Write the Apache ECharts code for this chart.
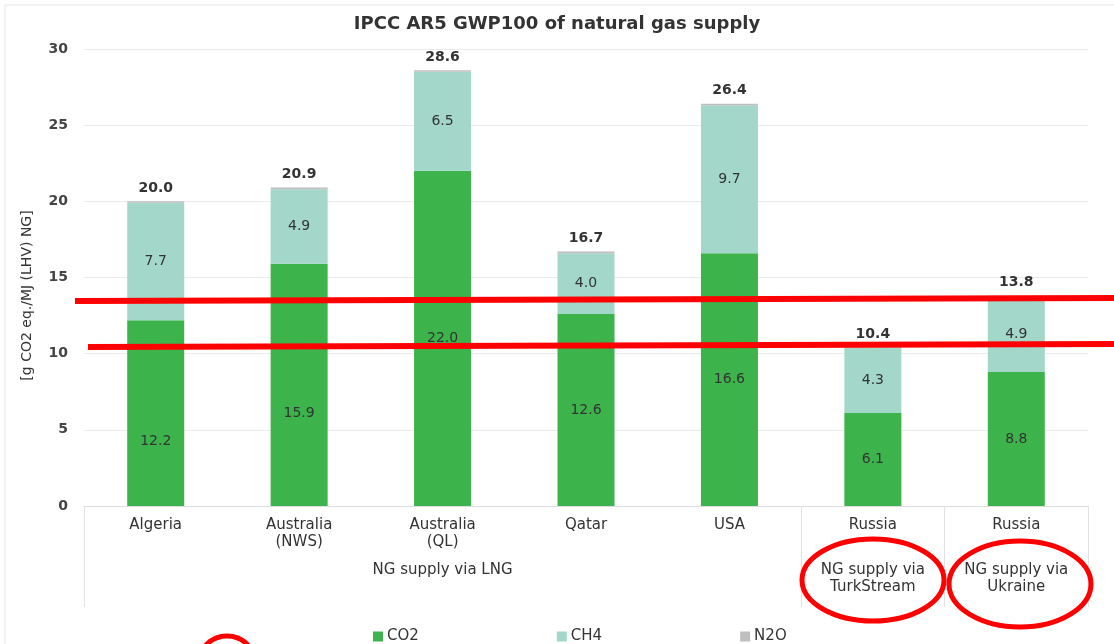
<!DOCTYPE html>
<html>
<head>
<meta charset="utf-8">
<title>IPCC AR5 GWP100 of natural gas supply</title>
<script src="https://cdn.jsdelivr.net/npm/echarts@6/dist/echarts.min.js"></script>
<style>
    html, body { margin: 0; padding: 0; background: #fff; }
    #chart { width: 1114px; height: 644px; }
</style>
</head>
<body>
<div id="chart"></div>
<script>
// data
let categories = ['Algeria', 'Australia\n(NWS)', 'Australia\n(QL)', 'Qatar', 'USA', 'Russia', 'Russia'];
let groupLabels = ['', '', 'NG supply via LNG', '', '', 'NG supply via\nTurkStream', 'NG supply via\nUkraine'];
let co2 = [12.2, 15.9, 22.0, 12.6, 16.6, 6.1, 8.8];
let ch4 = [7.7, 4.9, 6.5, 4.0, 9.7, 4.3, 4.9];
let n2o = [0.1, 0.1, 0.1, 0.1, 0.1, 0.04, 0.1];
let totals = ['20.0', '20.9', '28.6', '16.7', '26.4', '10.4', '13.8'];
let yTicks = [0, 5, 10, 15, 20, 25, 30];

let FONT = "'DejaVu Sans', 'Liberation Sans', Arial, sans-serif";

let myChart = echarts.init(document.getElementById('chart'));

let option = {
    animation: false,
    textStyle: {fontFamily: FONT},
    title: {
        text: 'IPCC AR5 GWP100 of natural gas supply',
        left: 'center',
        top: 10,
        textStyle: {fontSize: 18, fontWeight: 'bold', color: '#333', fontFamily: FONT}
    },
    legend: {
        data: ['CO2', 'CH4', 'N2O'],
        left: 368,
        top: 624,
        itemWidth: 10,
        itemHeight: 10,
        itemGap: 138,
        icon: 'rect',
        textStyle: {fontSize: 15, color: '#333', fontFamily: FONT, padding: [0, 0, 0, -1]}
    },
    grid: {left: 84, right: 26, top: 49, bottom: 138},
    xAxis: [{
        type: 'category',
        data: categories,
        axisLine: {lineStyle: {color: '#dcdcdc'}},
        axisTick: {
            show: true,
            length: 101,
            interval: function (idx) {
                return idx === 0 || idx === 5 || idx === 6;
            },
            lineStyle: {color: '#e2e2e2'}
        },
        axisLabel: {
            interval: 0,
            margin: 11,
            fontSize: 15,
            lineHeight: 17,
            color: '#333',
            fontFamily: FONT
        }
    }, {
        type: 'category',
        position: 'bottom',
        data: groupLabels,
        axisLine: {show: false},
        axisTick: {show: false},
        axisLabel: {
            interval: 0,
            margin: 56,
            fontSize: 15,
            lineHeight: 17,
            color: '#333',
            fontFamily: FONT
        }
    }],
    yAxis: {
        type: 'value',
        min: 0,
        max: 30,
        interval: 5,
        name: '[g CO2 eq./MJ (LHV) NG]',
        nameLocation: 'middle',
        nameGap: 50,
        nameTextStyle: {fontSize: 14, color: '#333', fontFamily: FONT, padding: [0, 36, 0, 0]},
        axisLine: {show: false},
        axisTick: {show: false},
        axisLabel: {
            margin: 16,
            fontSize: 14,
            fontWeight: 'bold',
            color: '#444',
            fontFamily: FONT,
            formatter: function (v) {
                return yTicks.indexOf(v) >= 0 ? String(v) : '';
            }
        },
        splitLine: {lineStyle: {color: '#ebebeb'}}
    },
    series: [{
        name: 'CO2',
        type: 'bar',
        stack: 'ghg',
        barWidth: 57,
        itemStyle: {color: '#3cb44b'},
        label: {
            show: true,
            position: 'inside',
            fontSize: 14,
            color: '#333',
            fontFamily: FONT,
            formatter: function (p) {
                return p.value.toFixed(1);
            }
        },
        // the two left labels sit lower in the original
        data: co2.map(function (v, i) {
            return i < 2 ? {value: v, label: {offset: [0, 28]}} : v;
        })
    }, {
        name: 'CH4',
        type: 'bar',
        stack: 'ghg',
        itemStyle: {color: '#a3d7c9'},
        label: {
            show: true,
            position: 'inside',
            fontSize: 14,
            color: '#333',
            fontFamily: FONT,
            formatter: function (p) {
                return p.value.toFixed(1);
            }
        },
        data: ch4
    }, {
        name: 'N2O',
        type: 'bar',
        stack: 'ghg',
        itemStyle: {color: '#bfbfbf'},
        label: {
            show: true,
            position: 'top',
            distance: 6,
            fontSize: 14,
            fontWeight: 'bold',
            color: '#333',
            fontFamily: FONT,
            formatter: function (p) {
                return totals[p.dataIndex];
            }
        },
        data: n2o
    }],
    graphic: [
        // frame of the pasted chart
        {type: 'rect', shape: {x: 5, y: 5, width: 1200, height: 700}, style: {fill: 'none', stroke: '#e6e6e6', lineWidth: 1}, z: 0},
        // red marks drawn over the picture
        {type: 'line', shape: {x1: 75, y1: 301, x2: 1114, y2: 298}, style: {stroke: '#ff0000', lineWidth: 6}, z: 100},
        {type: 'line', shape: {x1: 88, y1: 347, x2: 1114, y2: 344}, style: {stroke: '#ff0000', lineWidth: 6}, z: 100},
        {type: 'ellipse', shape: {cx: 873, cy: 580, rx: 71, ry: 41}, style: {fill: 'none', stroke: '#ff0000', lineWidth: 5}, z: 100},
        {type: 'ellipse', shape: {cx: 1020, cy: 584, rx: 71, ry: 43}, style: {fill: 'none', stroke: '#ff0000', lineWidth: 5}, z: 100},
        {type: 'circle', shape: {cx: 227, cy: 665, r: 29}, style: {fill: 'none', stroke: '#ff0000', lineWidth: 5}, z: 100}
    ]
};

if (option && typeof option === "object") {
    myChart.setOption(option, true);
}
</script>
</body>
</html>
